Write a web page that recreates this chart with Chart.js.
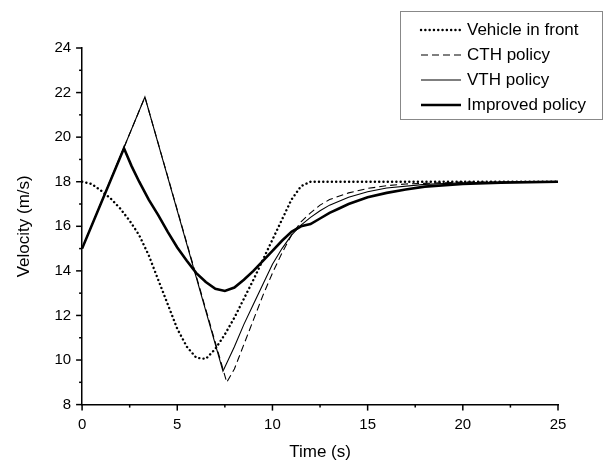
<!DOCTYPE html>
<html>
<head>
<meta charset="utf-8">
<script src="https://cdn.jsdelivr.net/npm/chart.js@4"></script>
<style>
  html, body { margin: 0; padding: 0; background: #fff; }
  #wrap { width: 603px; height: 465px; }
</style>
</head>
<body>
<div id="wrap"><canvas id="c"></canvas></div>
<script>
// series as [time, velocity] pairs
const frontPts = [[0,18],[0.5,17.9],[1,17.6],[1.5,17.25],[2,16.8],[2.5,16.25],[3,15.6],[3.5,14.7],[4,13.6],[4.5,12.5],[5,11.4],[5.5,10.6],[6,10.1],[6.5,10.05],[7,10.5],[7.5,11.15],[8,11.9],[8.5,12.75],[9,13.6],[9.5,14.5],[10,15.4],[10.5,16.3],[11,17.2],[11.5,17.8],[12,18],[25,18]];
const cthPts = [[0,15],[3.3,21.8],[7.6,9.0],[8,9.6],[8.5,10.7],[9,11.8],[9.5,12.9],[10,13.9],[10.5,14.8],[11,15.6],[11.5,16.2],[12,16.6],[12.5,16.95],[13,17.2],[14,17.5],[15,17.7],[16,17.82],[17,17.9],[20,17.98],[25,18]];
const vthPts = [[0,15],[3.3,21.8],[7.4,9.5],[8,10.6],[8.5,11.6],[9,12.5],[9.5,13.4],[10,14.3],[10.5,15.0],[11,15.6],[11.5,16.05],[12,16.4],[12.5,16.7],[13,16.95],[14,17.3],[15,17.55],[16,17.72],[18,17.88],[20,17.95],[25,18]];
const improvedPts = [[0,15],[2.2,19.5],[2.6,18.7],[3,18.0],[3.5,17.2],[4,16.5],[4.5,15.75],[5,15.05],[5.5,14.45],[6,13.9],[6.5,13.5],[7,13.2],[7.5,13.1],[8,13.25],[8.5,13.6],[9,14.0],[9.5,14.45],[10,14.9],[10.5,15.35],[11,15.75],[11.5,16.0],[12,16.1],[12.5,16.35],[13,16.6],[13.5,16.8],[14,17.0],[15,17.3],[16,17.5],[17,17.65],[18,17.78],[20,17.9],[22,17.96],[25,18]];
const seriesNames = ['Vehicle in front', 'CTH policy', 'VTH policy', 'Improved policy'];
const xTicks = [0, 5, 10, 15, 20, 25];
const yTicks = [8, 10, 12, 14, 16, 18, 20, 22, 24];

const FONT = 'Arial, "Liberation Sans", sans-serif';
const toXY = pts => pts.map(p => ({x: p[0], y: p[1]}));
const styles = [
  {borderWidth: 2.4, borderDash: [0.1, 4.2], borderCapStyle: 'round'},
  {borderWidth: 1.1, borderDash: [7, 4], borderCapStyle: 'butt'},
  {borderWidth: 1.1, borderDash: [], borderCapStyle: 'butt'},
  {borderWidth: 2.6, borderDash: [], borderCapStyle: 'butt'}
];
const allPts = [frontPts, cthPts, vthPts, improvedPts];

const legendBox = {
  id: 'legendBox',
  afterDraw(chart) {
    const ctx = chart.ctx;
    const x0 = 400, y0 = 11, w = 202, h = 108;
    ctx.save();
    ctx.strokeStyle = '#888'; ctx.lineWidth = 1; ctx.setLineDash([]);
    ctx.strokeRect(x0 + 0.5, y0 + 0.5, w, h);
    ctx.font = '17px ' + FONT;
    ctx.textBaseline = 'middle';
    seriesNames.forEach((name, i) => {
      const y = y0 + 19 + i * 25;
      ctx.strokeStyle = '#000';
      ctx.lineWidth = styles[i].borderWidth;
      ctx.setLineDash(styles[i].borderDash);
      ctx.lineCap = styles[i].borderCapStyle;
      ctx.beginPath(); ctx.moveTo(x0 + 21, y); ctx.lineTo(x0 + 61, y); ctx.stroke();
      ctx.fillStyle = '#000';
      ctx.fillText(name, x0 + 67, y);
    });
    ctx.restore();
  }
};

new Chart(document.getElementById('c'), {
  type: 'line',
  data: {
    datasets: allPts.map((pts, i) => Object.assign({
      label: seriesNames[i],
      data: toXY(pts),
      borderColor: '#000',
      pointRadius: 0,
      tension: 0,
      fill: false
    }, styles[i]))
  },
  options: {
    responsive: true,
    maintainAspectRatio: false,
    animation: false,
    layout: {padding: {top: 48, right: 45, left: 14, bottom: 2}},
    plugins: {legend: {display: false}, tooltip: {enabled: false}},
    scales: {
      x: {
        type: 'linear', min: 0, max: 25,
        afterBuildTicks: a => { a.ticks = xTicks.map(v => ({value: v})); },
        grid: {display: false},
        border: {color: '#000', width: 1.5},
        ticks: {color: '#000', font: {size: 15, family: FONT}},
        title: {display: true, text: 'Time (s)', color: '#000', font: {size: 17, family: FONT}, padding: {top: 6, bottom: 0}}
      },
      y: {
        type: 'linear', min: 8, max: 24,
        afterBuildTicks: a => { a.ticks = yTicks.map(v => ({value: v})); },
        grid: {display: false},
        border: {color: '#000', width: 1.5},
        ticks: {color: '#000', font: {size: 15, family: FONT}},
        title: {display: true, text: 'Velocity (m/s)', color: '#000', font: {size: 17, family: FONT}, padding: {top: 0, bottom: 17}}
      }
    }
  },
  plugins: [legendBox, {
    id: 'axisTicks',
    afterDraw(chart) {
      const ctx = chart.ctx, xs = chart.scales.x, ys = chart.scales.y, a = chart.chartArea;
      ctx.save(); ctx.strokeStyle = '#000'; ctx.lineWidth = 1.5;
      for (let v = 0; v <= 25; v += 2.5) {
        const px = xs.getPixelForValue(v), len = v % 5 === 0 ? 6 : 3;
        ctx.beginPath(); ctx.moveTo(px, a.bottom); ctx.lineTo(px, a.bottom + len); ctx.stroke();
      }
      for (let v = 8; v <= 24; v += 1) {
        const py = ys.getPixelForValue(v), len = v % 2 === 0 ? 6 : 3;
        ctx.beginPath(); ctx.moveTo(a.left, py); ctx.lineTo(a.left - len, py); ctx.stroke();
      }
      ctx.restore();
    }
  }]
});
</script>
</body>
</html>
